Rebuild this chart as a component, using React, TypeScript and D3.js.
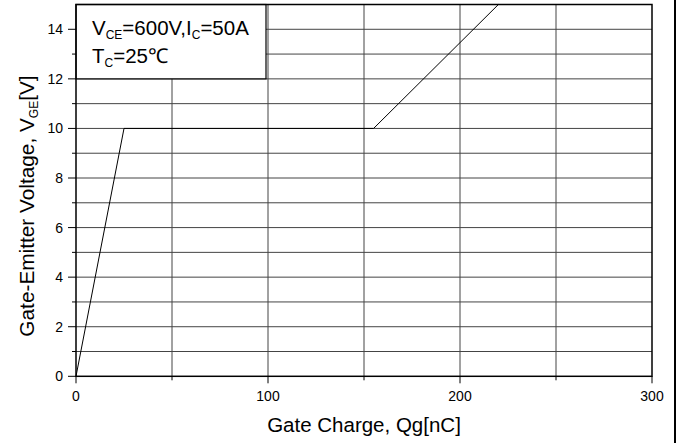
import React from "react";
import * as d3 from "d3";

const qg = [0, 25, 155, 220];
const vge = [0, 10, 10, 15];
const xMajor = [0, 100, 200, 300];
const xMinor = [50, 150, 250];
const yMajor = [0, 2, 4, 6, 8, 10, 12, 14];
const yMinor = [1, 3, 5, 7, 9, 11, 13];
const xLabel = "Gate Charge, Qg[nC]";

export default function App() {
  const W = 682, H = 443;
  const x = d3.scaleLinear().domain([0, 300]).range([76, 652]);
  const y = d3.scaleLinear().domain([0, 15]).range([376.3, 4.5]);
  const line = d3.line<number>().x((_, i) => x(qg[i])).y((d) => y(d));
  const font = "'Liberation Sans', Arial, sans-serif";
  const legR = 266, legB = y(12);
  return (
    <svg width={W} height={H} style={{ position: "absolute", left: 0, top: 0, background: "#fff" }} fontFamily={font}>
      {/* grid */}
      {[...xMinor, 100, 200].map((v) => (
        <line key={"gx" + v} x1={x(v)} x2={x(v)} y1={y(0)} y2={y(15)} stroke="#444" strokeWidth={1} />
      ))}
      {[...yMajor.slice(1), ...yMinor].map((v) => (
        <line key={"gy" + v} x1={x(0)} x2={x(300)} y1={y(v)} y2={y(v)} stroke="#444" strokeWidth={1} />
      ))}
      {/* curve */}
      <path d={line(vge) || ""} fill="none" stroke="#000" strokeWidth={1} />
      {/* legend box */}
      <rect x={x(0)} y={y(15)} width={legR - x(0)} height={legB - y(15)} fill="#fff" stroke="#000" strokeWidth={1.2} />
      <text x={92} y={35} fontSize={20.5}>
        V<tspan fontSize={12} dy={4}>CE</tspan><tspan dy={-4}>=600V,I</tspan><tspan fontSize={12} dy={4}>C</tspan><tspan dy={-4}>=50A</tspan>
      </text>
      <text x={92} y={63} fontSize={20.5}>
        T<tspan fontSize={12} dy={4}>C</tspan><tspan dy={-4}>=25℃</tspan>
      </text>
      {/* frame */}
      <rect x={x(0)} y={y(15)} width={x(300) - x(0)} height={y(0) - y(15)} fill="none" stroke="#000" strokeWidth={1.5} />
      <line x1={675} x2={675} y1={0} y2={H} stroke="#000" strokeWidth={2} />
      {/* ticks */}
      {xMajor.map((v) => (
        <g key={"xt" + v}>
          <line x1={x(v)} x2={x(v)} y1={y(0)} y2={y(0) + 7} stroke="#000" />
          <text x={x(v)} y={401} fontSize={14} textAnchor="middle">{v}</text>
        </g>
      ))}
      {xMinor.map((v) => (
        <line key={"xm" + v} x1={x(v)} x2={x(v)} y1={y(0)} y2={y(0) + 4} stroke="#000" />
      ))}
      {yMajor.map((v) => (
        <g key={"yt" + v}>
          <line x1={x(0) - 8} x2={x(0)} y1={y(v)} y2={y(v)} stroke="#000" />
          <text x={63} y={y(v) + 5} fontSize={14} textAnchor="end">{v}</text>
        </g>
      ))}
      {yMinor.map((v) => (
        <line key={"ym" + v} x1={x(0) - 4} x2={x(0)} y1={y(v)} y2={y(v)} stroke="#000" />
      ))}
      {/* axis labels */}
      <text x={364} y={432} fontSize={20.5} textAnchor="middle">{xLabel}</text>
      <text transform="translate(34,206) rotate(-90)" fontSize={20.8} textAnchor="middle">
        Gate-Emitter Voltage, V<tspan fontSize={12} dy={4}>GE</tspan><tspan dy={-4}>[V]</tspan>
      </text>
    </svg>
  );
}
